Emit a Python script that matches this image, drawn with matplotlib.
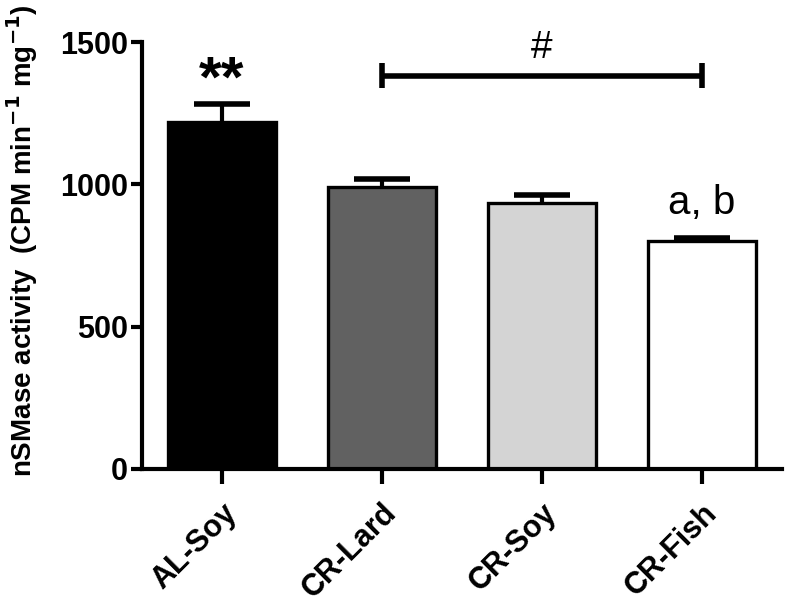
import matplotlib
matplotlib.use('Agg')
import matplotlib.pyplot as plt
import numpy as np

# ============================================================
# Data
# ============================================================
groups = ['AL-Soy', 'CR-Lard', 'CR-Soy', 'CR-Fish']
means = [1219, 990, 933, 802]
sems = [62, 29, 28, 10]
fills = ['#000000', '#616161', '#d4d4d4', '#ffffff']
yticks = [0, 500, 1000, 1500]

# significance annotations
star_label = '**'
hash_label = '#'
hash_span = (1, 3)
hash_y = 1381
fish_label = 'a, b'

plt.rcParams.update({
    'font.family': ['Liberation Sans', 'DejaVu Sans'],
    'font.weight': 'bold',
    'axes.linewidth': 3.0,
})

fig = plt.figure(figsize=(7.89, 6.09), dpi=100)
ax = fig.add_axes([0.180, 0.230, 0.811, 0.701])

x = np.arange(len(groups))
means = np.array(means)
sems = np.array(sems)
ax.bar(x, means, width=0.68, color=fills, edgecolor='black', linewidth=2.4, zorder=2)

# upper-only error bars (stem + cap), stem behind the bar
tops = means + sems
ax.vlines(x, means, tops, color='black', lw=3, zorder=1)
ax.hlines(tops, x - 0.175, x + 0.175, color='black', lw=4, zorder=1)

ax.set_xlim(-0.5, 3.5)
ax.set_ylim(0, 1500)
ax.set_yticks(yticks)
ax.set_xticks(x)
ax.set_xticklabels(groups, rotation=45, ha='right', rotation_mode='anchor',
                   fontsize=22, fontweight='bold')
ax.tick_params(axis='y', labelsize=22, width=3, length=8, pad=2)
ax.tick_params(axis='x', width=3, length=11, pad=10)
for lab in ax.get_yticklabels():
    lab.set_fontweight('bold')

ax.spines['top'].set_visible(False)
ax.spines['right'].set_visible(False)

ax.set_ylabel('nSMase activity  (CPM min$^{\\mathbf{-1}}$ mg$^{\\mathbf{-1}}$)',
              fontsize=20, fontweight='bold')
ax.yaxis.set_label_coords(-0.16, 0.535)

# annotations
ax.text(x[0], tops[0] - 15, star_label, ha='center', va='bottom',
        fontsize=42, fontweight='bold')
ax.plot([x[hash_span[0]], x[hash_span[1]]], [hash_y, hash_y], color='black', lw=4,
        solid_capstyle='butt')
for xi in hash_span:
    ax.plot([x[xi], x[xi]], [hash_y - 44, hash_y + 44], color='black', lw=4,
            solid_capstyle='butt')
ax.text((x[hash_span[0]] + x[hash_span[1]]) / 2, hash_y + 35, hash_label,
        ha='center', va='bottom', fontsize=28, fontweight='normal')
ax.text(x[3], tops[3] + 55, fish_label, ha='center', va='bottom',
        fontsize=29, fontweight='normal')

fig.savefig('out.png', dpi=100)
